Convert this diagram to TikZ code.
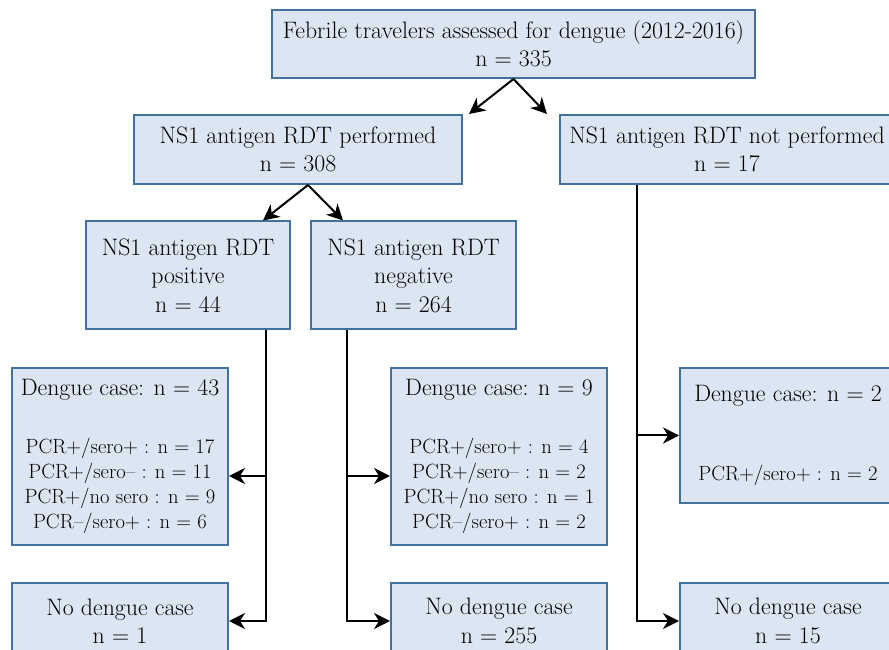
\documentclass[tikz,border=0pt]{standalone}
\usetikzlibrary{arrows.meta,calc}
\definecolor{boxfill}{HTML}{DCE6F2}
\definecolor{boxline}{HTML}{41719C}
\newcommand{\mainsize}{\fontsize{23.8}{28.5}\selectfont}
\newcommand{\pcrsize}{\fontsize{20.6}{25}\selectfont}

\begin{document}
\begin{tikzpicture}[x=1pt,y=1pt,
    box/.style={draw=boxline,fill=boxfill,line width=2pt,inner sep=0pt,align=center,font=\mainsize},
    casebox/.style={box,font=\pcrsize},
    arr/.style={line width=2pt,-{Stealth[length=16pt,width=16pt,inset=5pt]}}]
            \useasboundingbox (0,0) rectangle (889,650);
            \clip (0,0) rectangle (889,650);

            \node[box,minimum width=483,minimum height=68] (top) at (513.5,606)
                {Febrile travelers assessed for dengue (2012-2016)\\n = 335};
            \node[box,minimum width=328,minimum height=69] (perf) at (298,500.5)
                {NS1 antigen RDT performed\\n = 308};
            \node[box,minimum width=334,minimum height=69] (notperf) at (727,500.5)
                {NS1 antigen RDT not performed\\n = 17};

            \node[box,minimum width=204,minimum height=108] (pos) at (188,374.5)
                {NS1 antigen RDT\\positive\\n = 44};
            \node[box,minimum width=205,minimum height=108] (neg) at (413.5,374.5)
                {NS1 antigen RDT\\negative\\n = 264};

            \node[casebox,minimum width=216,minimum height=177] (d43) at (120,193.5)
                {\mainsize Dengue case: n = 43\\[33pt]PCR+/sero+ : n = 17\\PCR+/sero-- : n = 11\\PCR+/no sero : n = 9\\PCR--/sero+ : n = 6};
            \node[casebox,minimum width=216,minimum height=177] (d9) at (499,193.5)
                {\mainsize Dengue case: n = 9\\[33pt]PCR+/sero+ : n = 4\\PCR+/sero-- : n = 2\\PCR+/no sero : n = 1\\PCR--/sero+ : n = 2};
            \node[casebox,minimum width=216,minimum height=135] (d2) at (788,214.5)
                {\mainsize Dengue case: n = 2\\[54pt]PCR+/sero+ : n = 2};

            \node[box,minimum width=216,minimum height=76] (nd1) at (120,29)
                {No dengue case\\n = 1};
            \node[box,minimum width=216,minimum height=76] (nd255) at (499,29)
                {No dengue case\\n = 255};
            \node[box,minimum width=216,minimum height=76] (nd15) at (788,29)
                {No dengue case\\n = 15};

            \draw[arr] (top.south) -- ([xshift=6pt]perf.north east);
            \draw[arr] (top.south) -- ([xshift=-12pt]notperf.north west);
            \draw[arr] ([xshift=10pt]perf.south) -- ([xshift=-28pt]pos.north east);
            \draw[arr] ([xshift=10pt]perf.south) -- ([xshift=33pt]neg.north west);

            \coordinate (posj) at ([xshift=-25pt]pos.south east);
            \coordinate (negj) at ([xshift=37pt]neg.south west);
            \coordinate (npj) at ([xshift=78pt]notperf.south west);

            \draw[arr] (posj) |- ([yshift=-19.5pt]d43.east);
            \draw[arr] (posj) |- (nd1.east);
            \draw[arr] (negj) |- ([yshift=-19.5pt]d9.west);
            \draw[arr] (negj) |- (nd255.west);
            \draw[arr] (npj) |- (d2.west);
            \draw[arr] (npj) |- (nd15.west);
        \end{tikzpicture}
\end{document}
